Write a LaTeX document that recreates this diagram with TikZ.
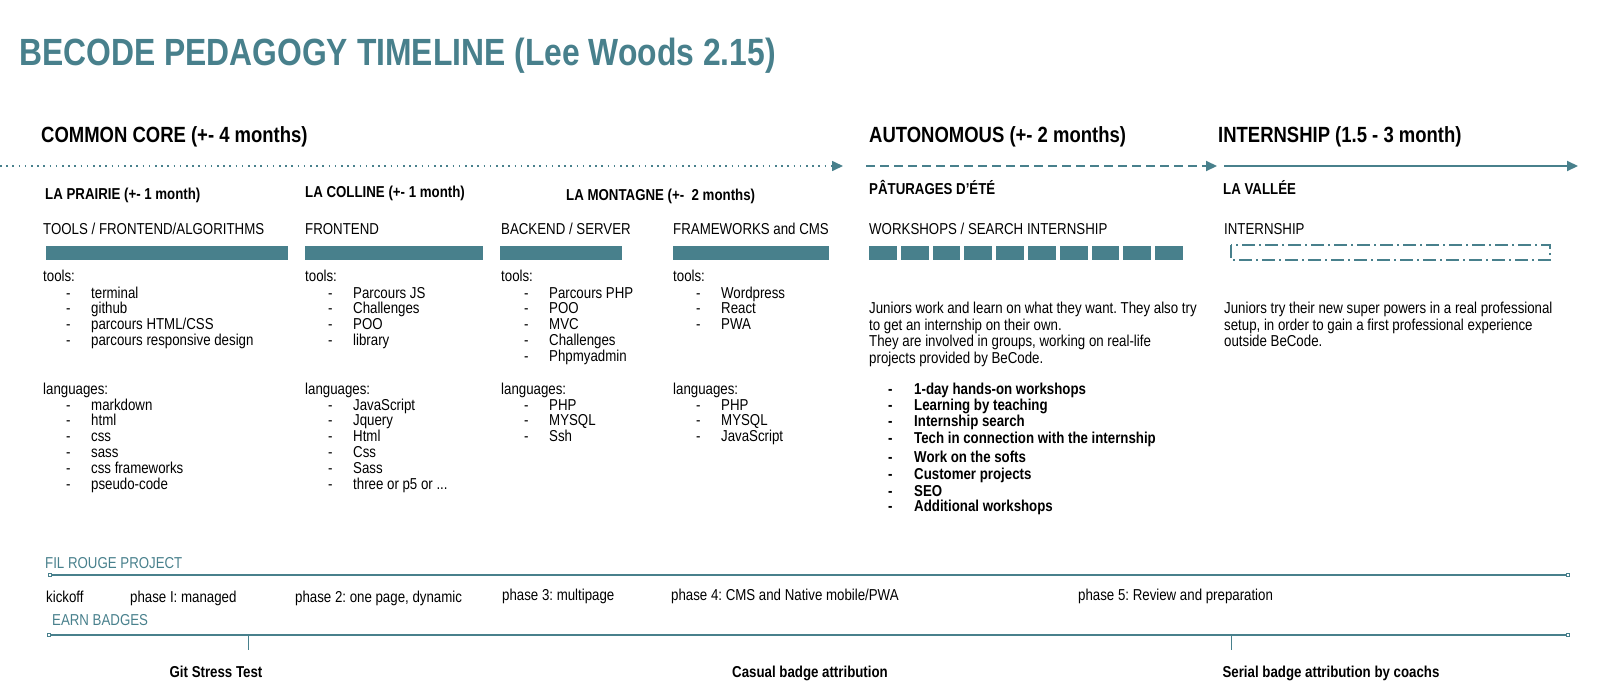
\documentclass[tikz,border=0pt]{standalone}
\usepackage{fontspec}
\setmainfont[FakeStretch=0.84]{Liberation Sans}
\usetikzlibrary{arrows.meta}
\definecolor{tealc}{RGB}{72,128,140}
\frenchspacing
\newcommand\itemlist[4]{%
  \foreach \itm [count=\i] in {#4} {%
    \node[txt] (#1d\i) at (#2+23, {#3+(\i-1)*15.8}) {-};
    \node[txt] (#1t\i) at (#2+48, {#3+(\i-1)*15.8}) {\itm};
  }}
\begin{document}
\begin{tikzpicture}[x=1pt,y=-1pt,
  txt/.style={anchor=base west, inner sep=0pt, font=\fontsize{15.8}{15.8}\selectfont},
  btxt/.style={txt, font=\fontsize{15.8}{15.8}\selectfont\bfseries},
  head/.style={anchor=base west, inner sep=0pt, font=\fontsize{22}{22}\selectfont\bfseries},
  tealtxt/.style={txt, text=tealc},
  bar/.style={fill=tealc, draw=none},
  tipa/.style={-{Triangle[length=11pt,width=10pt]}},
  endsq/.style={{Square[open,length=4pt,width=4pt]}-{Square[open,length=4pt,width=4pt]}},
  tl/.style={draw=tealc, line width=1.3pt}
]
\useasboundingbox (0,0) rectangle (1617,699);

% title
\node[anchor=base west, inner sep=0pt, text=tealc, font=\fontsize{37.9}{37.9}\selectfont\bfseries] (title) at (19,65.5) {BECODE PEDAGOGY TIMELINE (Lee Woods 2.15)};

% main headings
\node[head] (hcc) at (41,142) {COMMON CORE (+- 4 months)};
\node[head] (hau) at (869,142) {AUTONOMOUS (+- 2 months)};
\node[head] (hin) at (1218,142) {INTERNSHIP (1.5 - 3 month)};

% arrows
\coordinate (a0) at (0,166);
\coordinate (a1) at (843,166);
\coordinate (b0) at (866,166);
\coordinate (b1) at (1217,166);
\coordinate (c0) at (1224,166);
\coordinate (c1) at (1578,166);
\draw[tealc, line width=1.6pt, dash pattern=on 1.6pt off 4.6pt, tipa] (a0) -- (a1);
\draw[tealc, line width=2pt, dash pattern=on 9pt off 5pt, tipa] (b0) -- (b1);
\draw[tealc, line width=2pt, tipa] (c0) -- (c1);

% sub headings
\node[btxt] (s1) at (45,199.5) {LA PRAIRIE (+- 1 month)};
\node[btxt] (s2) at (305,197.5) {LA COLLINE (+- 1 month)};
\node[btxt] (s3) at (566,200.5) {LA MONTAGNE (+-\ \ 2 months)};
\node[btxt] (s4) at (869,194) {PÂTURAGES D'ÉTÉ};
\node[btxt] (s5) at (1223,194) {LA VALLÉE};

% sub labels
\node[txt] (l1) at (43,234.5) {TOOLS / FRONTEND/ALGORITHMS};
\node[txt] (l2) at (305,234.5) {FRONTEND};
\node[txt] (l3) at (501,234.5) {BACKEND / SERVER};
\node[txt] (l4) at (673,234.5) {FRAMEWORKS and CMS};
\node[txt] (l5) at (869,234.5) {WORKSHOPS / SEARCH INTERNSHIP};
\node[txt] (l6) at (1224,234.5) {INTERNSHIP};

% bars
\fill[bar] (46,246) rectangle (288,260);
\fill[bar] (305,246) rectangle (483,260);
\fill[bar] (500,246) rectangle (622,260);
\fill[bar] (673,246) rectangle (829,260);
\foreach \k in {0,...,9} \fill[bar] ({869+\k*31.8},246) rectangle +(27.8,14);
\draw[tealc, line width=1.4pt, dash pattern=on 13pt off 4pt on 2pt off 4pt] (1231,245) rectangle (1550,260);

% tools lists
\node[txt] (t1) at (43,281.5) {tools:};
\itemlist{ta}{43}{298}{terminal,github,parcours HTML/CSS,parcours responsive design}
\node[txt] (t2) at (305,281.5) {tools:};
\itemlist{tb}{305}{298}{Parcours JS,Challenges,POO,library}
\node[txt] (t3) at (501,281.5) {tools:};
\itemlist{tc}{501}{298}{Parcours PHP,POO,MVC,Challenges,Phpmyadmin}
\node[txt] (t4) at (673,281.5) {tools:};
\itemlist{td}{673}{298}{Wordpress,React,PWA}

% languages lists
\node[txt] (g1) at (43,394) {languages:};
\itemlist{ga}{43}{410}{markdown,html,css,sass,css frameworks,pseudo-code}
\node[txt] (g2) at (305,394) {languages:};
\itemlist{gb}{305}{410}{JavaScript,Jquery,Html,Css,Sass,three or p5 or .{}.{}.}
\node[txt] (g3) at (501,394) {languages:};
\itemlist{gc}{501}{410}{PHP,MYSQL,Ssh}
\node[txt] (g4) at (673,394) {languages:};
\itemlist{gd}{673}{410}{PHP,MYSQL,JavaScript}

% autonomous paragraph
\node[txt] (p1) at (869,313.5) {Juniors work and learn on what they want. They also try};
\node[txt] (p2) at (869,330) {to get an internship on their own.};
\node[txt] (p3) at (869,346.5) {They are involved in groups, working on real-life};
\node[txt] (p4) at (869,363) {projects provided by BeCode.};

% bold list
\foreach \itm/\yy [count=\i] in {1-day hands-on workshops/394, Learning by teaching/410, Internship search/426, Tech in connection with the internship/443, Work on the softs/462, Customer projects/479, SEO/496, Additional workshops/511} {
  \node[btxt] (wd\i) at (888,\yy) {-};
  \node[btxt] (wt\i) at (914,\yy) {\itm};
}

% internship paragraph
\node[txt] (q1) at (1224,313.5) {Juniors try their new super powers in a real professional};
\node[txt] (q2) at (1224,330) {setup, in order to gain a first professional experience};
\node[txt] (q3) at (1224,346.5) {outside BeCode.};

% fil rouge
\node[tealtxt] (fr) at (45,568) {FIL ROUGE PROJECT};
\coordinate (f0) at (48,575);
\coordinate (f1) at (1570,575);
\draw[tl, endsq] (f0) -- (f1);
\node[txt] (ph0) at (46,602) {kickoff};
\node[txt] (ph1) at (130,602) {phase I: managed};
\node[txt] (ph2) at (295,602) {phase 2: one page, dynamic};
\node[txt] (ph3) at (502,600) {phase 3: multipage};
\node[txt] (ph4) at (671,600) {phase 4: CMS and Native mobile/PWA};
\node[txt] (ph5) at (1078,600) {phase 5: Review and preparation};

% badges
\node[tealtxt] (eb) at (52,625) {EARN BADGES};
\coordinate (e0) at (47,635);
\coordinate (e1) at (1570,635);
\draw[tl, endsq] (e0) -- (e1);
\coordinate (k1a) at (248,635);
\coordinate (k1b) at (248,650);
\coordinate (k2a) at (1231,635);
\coordinate (k2b) at (1231,650);
\draw[tealc, line width=1pt] (k1a) -- (k1b);
\draw[tealc, line width=1pt] (k2a) -- (k2b);
\node[btxt, anchor=base] (bg1) at (216,677) {Git Stress Test};
\node[btxt, anchor=base] (bg2) at (810,677) {Casual badge attribution};
\node[btxt, anchor=base] (bg3) at (1331,677) {Serial badge attribution by coachs};
\end{tikzpicture}
\end{document}
